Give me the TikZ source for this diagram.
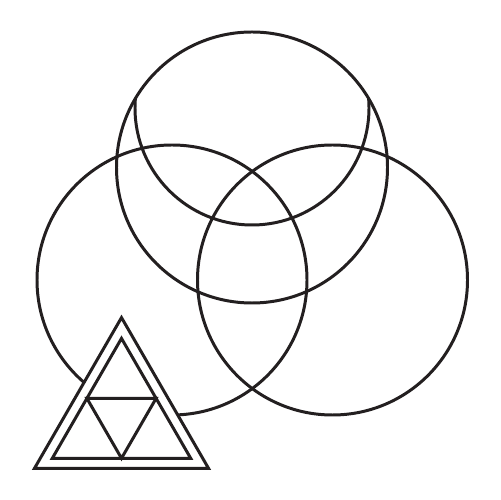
\documentclass[tikz,border=0pt]{standalone}
\usepackage{tikz}
\usetikzlibrary{calc}
\definecolor{ink}{RGB}{35,31,32}
\begin{document}
\begin{tikzpicture}[x=0.02cm,y=0.02cm,line width=1.7pt,color=ink]
      \useasboundingbox (0,0) rectangle (500,500);
      \fill[white] (0,0) rectangle (500,500);
      % three rings
      \draw (172,220) circle (135);
      \draw (332.5,220) circle (135);
      \draw (252,332.5) circle (135.5);
      % inner arc of the top ring
      \begin{scope}
        \clip (252,332.5) circle (135.5);
        \draw (252,392) circle (117);
      \end{scope}
      % triangle
      \coordinate (o1) at (34.5,31.7);
      \coordinate (o2) at (208.5,31.7);
      \coordinate (o3) at (121.5,182.4);
      \coordinate (i1) at (52.3,41.7);
      \coordinate (i2) at (190.7,41.7);
      \coordinate (i3) at (121.5,161.6);
      \fill[white] (o1)--(o2)--(o3)--cycle;
      \draw (o1)--(o2)--(o3)--cycle;
      \draw (i1)--(i2)--(i3)--cycle;
      \draw ($(i1)!0.5!(i3)$)--($(i2)!0.5!(i3)$)--($(i1)!0.5!(i2)$)--cycle;
\end{tikzpicture}
\end{document}
